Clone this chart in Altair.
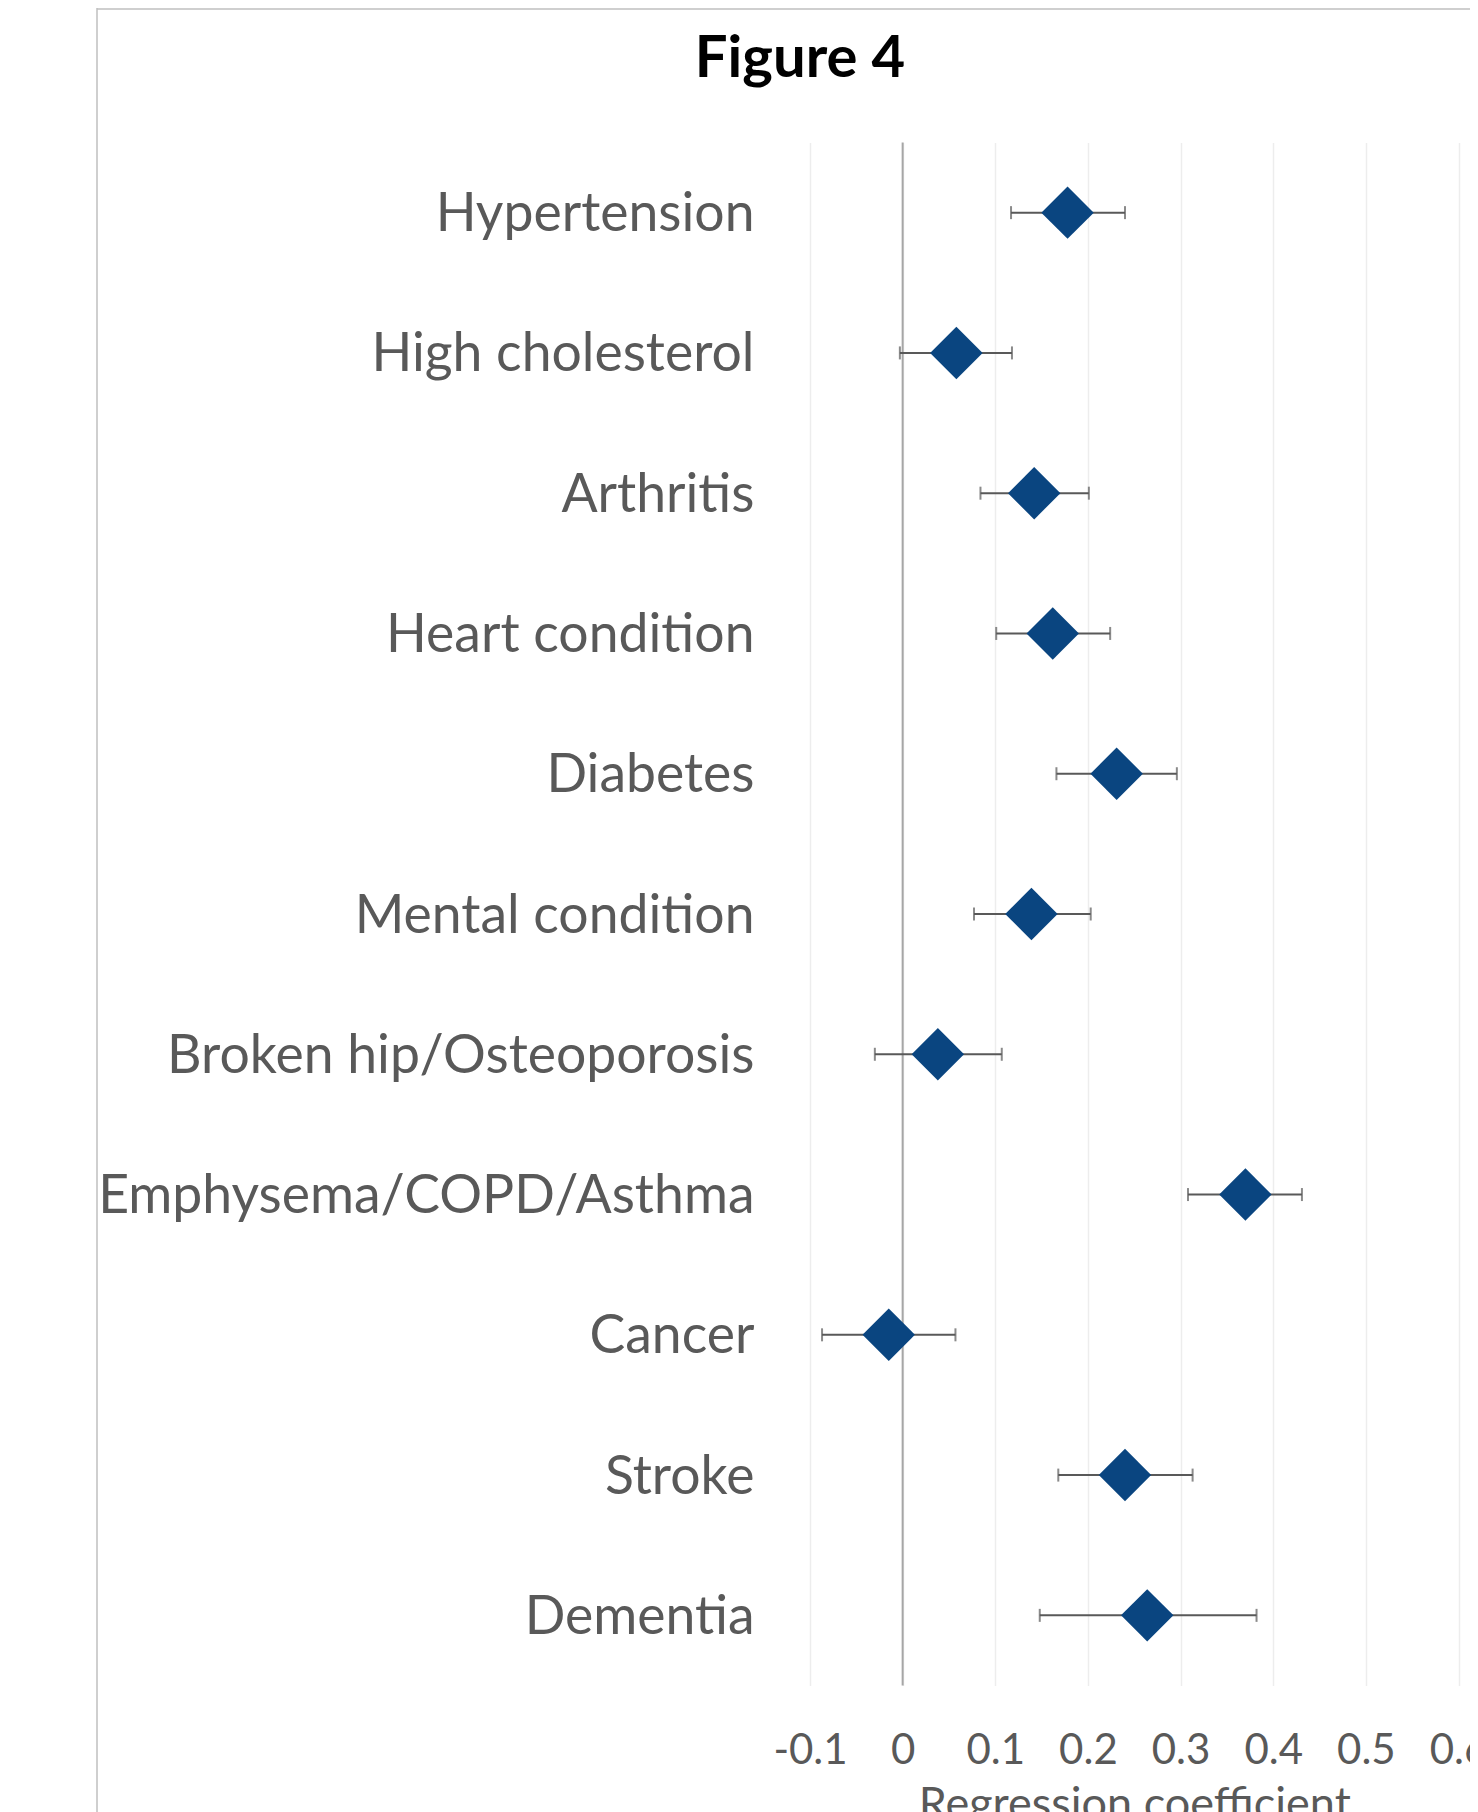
import altair as alt
import pandas as pd

categories = ["Hypertension", "High cholesterol", "Arthritis", "Heart condition",
              "Diabetes", "Mental condition", "Broken hip/Osteoporosis",
              "Emphysema/COPD/Asthma", "Cancer", "Stroke", "Dementia"]
coef = [0.178, 0.058, 0.142, 0.162, 0.231, 0.139, 0.038, 0.370, -0.015, 0.240, 0.264]
lower = [0.117, -0.003, 0.084, 0.101, 0.166, 0.077, -0.030, 0.308, -0.087, 0.168, 0.148]
upper = [0.240, 0.118, 0.201, 0.224, 0.296, 0.203, 0.107, 0.431, 0.057, 0.313, 0.382]
tick_values = [-0.1, 0, 0.1, 0.2, 0.3, 0.4, 0.5, 0.6]

df = pd.DataFrame({"category": categories, "coef": coef, "lower": lower, "upper": upper})
zero_df = pd.DataFrame({"zero": [0.0]})
title_df = pd.DataFrame({"t": ["Figure 4"]})
one_df = pd.DataFrame({"k": [0]})

W = 648.5
H = 1543

x_scale = alt.Scale(domain=[-0.1, 0.6], nice=False, zero=False)
y_enc = alt.Y("category:N", sort=categories,
              scale=alt.Scale(paddingInner=0, paddingOuter=0),
              axis=alt.Axis(title=None, domain=False, ticks=False, tickSize=0,
                            labelPadding=56, labelOffset=2.5, labelFontSize=53.5,
                            labelFont="Lato", labelColor="#595959", labelLimit=900,
                            grid=False))

x_axis = alt.Axis(title="Regression coefficient", values=tick_values,
                  labelExpr="datum.value == 0 ? '0' : (datum.value < 0 ? '-' : '') + format(abs(datum.value), '.1f')",
                  domain=False, ticks=False, tickSize=0,
                  labelFont="Lato", labelFontSize=42, labelColor="#595959",
                  labelBaseline="top", labelPadding=44.5,
                  labelFlush=False, labelOverlap=False, labelBound=False,
                  grid=True, gridColor="#EDEDED", gridWidth=1.5,
                  titleFont="Lato", titleFontSize=45, titleFontWeight="normal",
                  titleColor="#595959", titleBaseline="top", titleY=97)

base = alt.Chart(df)

bars = base.mark_rule(color="#595959", strokeWidth=2).encode(
    x=alt.X("lower:Q", scale=x_scale, axis=x_axis),
    x2="upper:Q",
    y=y_enc,
)
cap_lo = base.mark_tick(color="#595959", thickness=2, size=13, orient="vertical").encode(
    x=alt.X("lower:Q", scale=x_scale), y=alt.Y("category:N", sort=categories))
cap_hi = base.mark_tick(color="#595959", thickness=2, size=13, orient="vertical").encode(
    x=alt.X("upper:Q", scale=x_scale), y=alt.Y("category:N", sort=categories))
points = base.mark_point(shape="diamond", filled=True, opacity=1, size=2750,
                         color="#0A4580").encode(
    x=alt.X("coef:Q", scale=x_scale), y=alt.Y("category:N", sort=categories))

zero_line = alt.Chart(zero_df).mark_rule(color="#A6A6A6", strokeWidth=2).encode(
    x=alt.X("zero:Q", scale=x_scale))

title = alt.Chart(title_df).mark_text(font="Lato", fontSize=58, fontWeight="bold",
                                      color="#000000", align="center",
                                      baseline="alphabetic").encode(
    text="t:N", x=alt.value(-10), y=alt.value(-65.8))

border_left = alt.Chart(one_df).mark_rule(color="#BFBFBF", strokeWidth=1.5).encode(
    x=alt.value(-713), y=alt.value(-134.5), y2=alt.value(H + 130))
border_top = alt.Chart(one_df).mark_rule(color="#BFBFBF", strokeWidth=1.5).encode(
    x=alt.value(-713), x2=alt.value(W + 30), y=alt.value(-133.5))

chart = alt.layer(zero_line, bars, cap_lo, cap_hi, points, title, border_left, border_top).properties(
    width=W, height=H,
    background="white",
    autosize=alt.AutoSizeParams(type="none"),
    padding={"left": 802, "top": 134.5, "right": 11.5, "bottom": 126.5},
).configure_view(strokeWidth=0, stroke=None)

chart.save("out.html", embed_options={"renderer": "svg", "actions": False})
